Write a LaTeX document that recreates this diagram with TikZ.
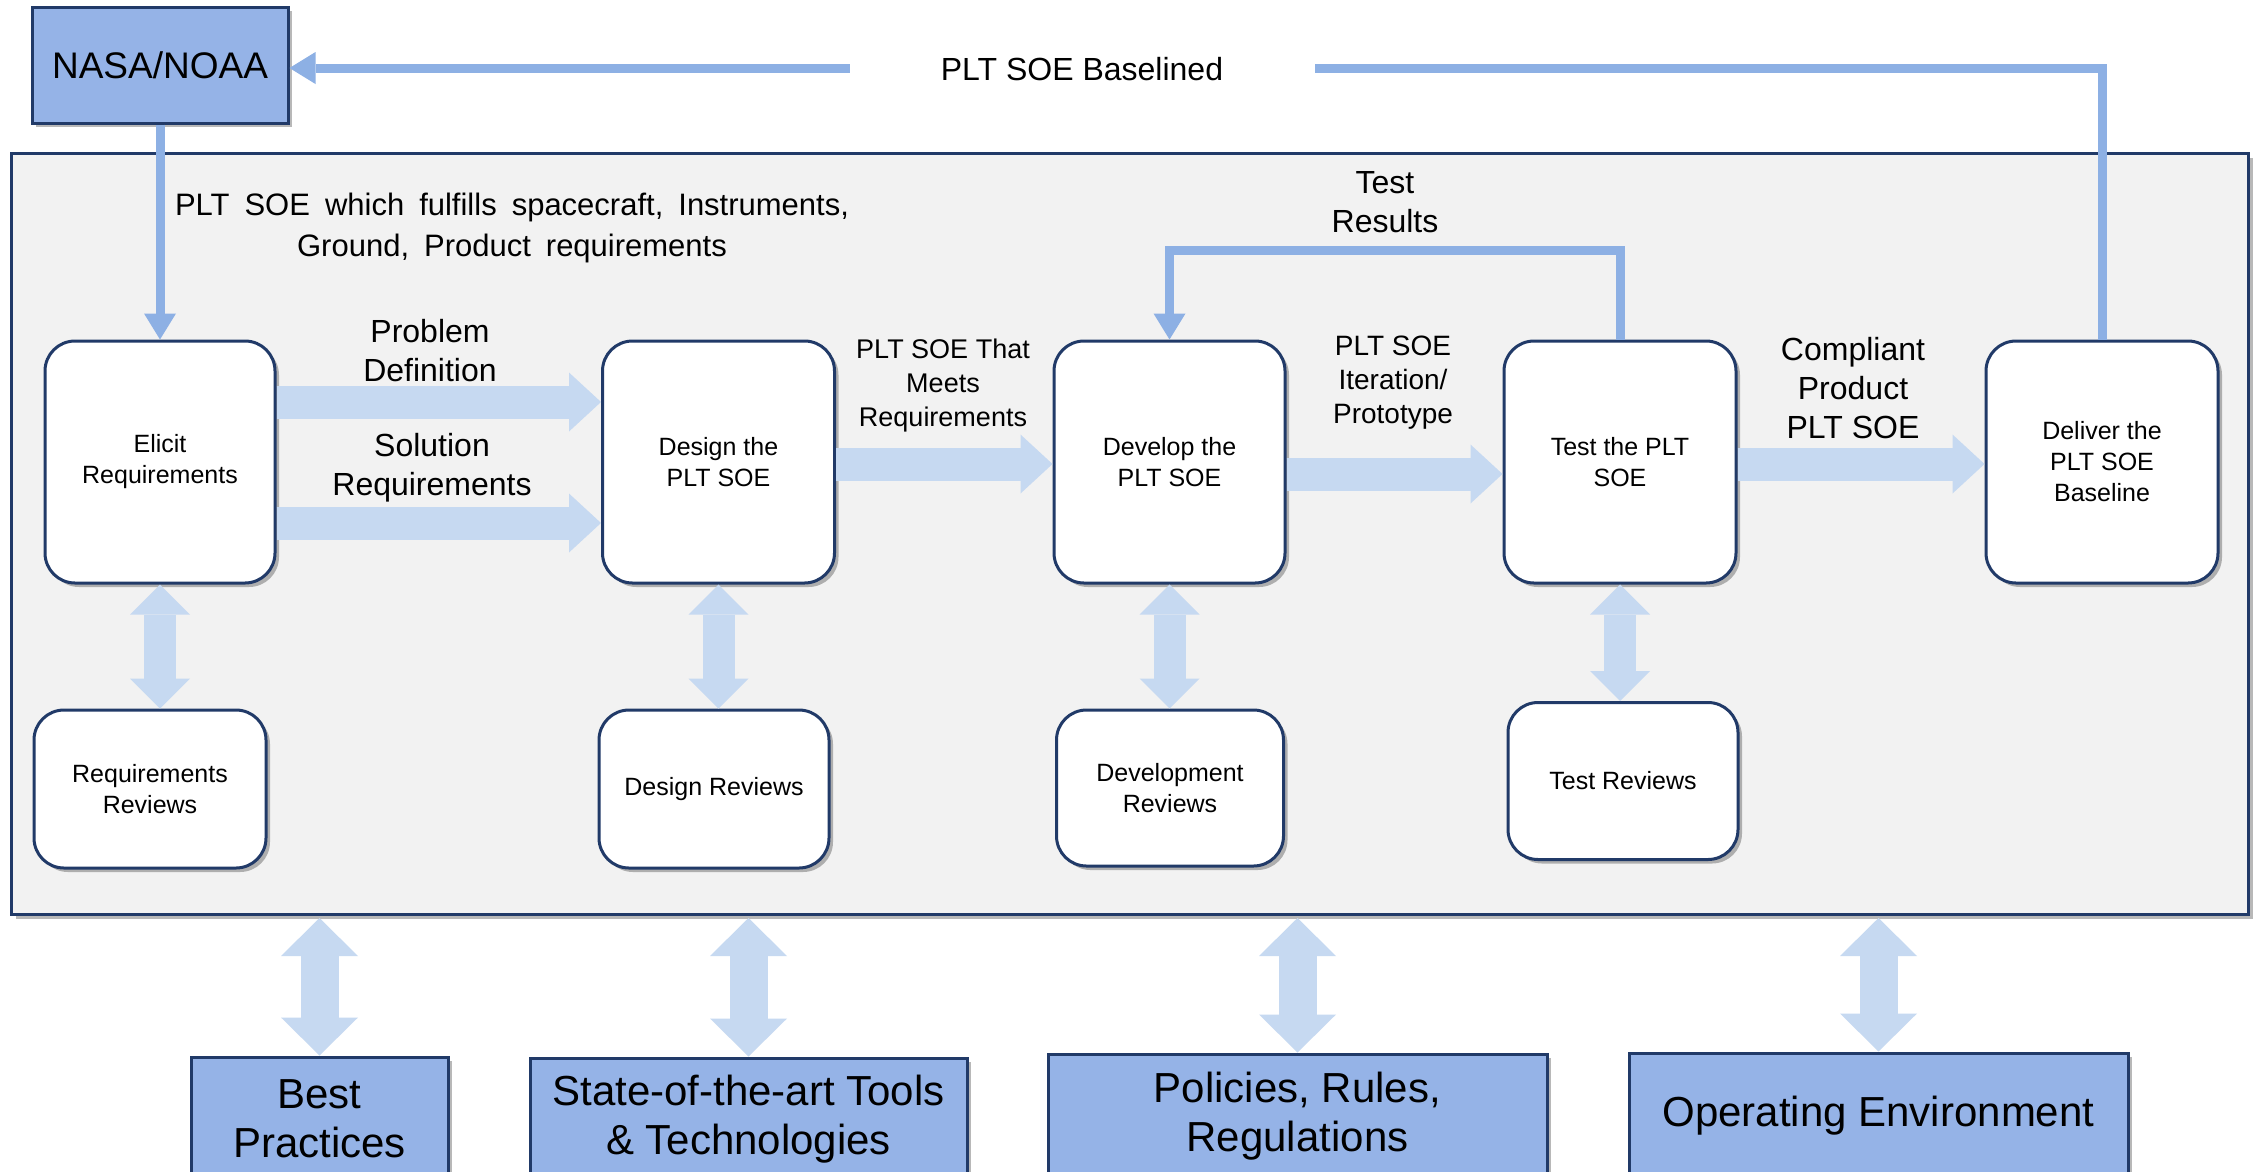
\documentclass[tikz,border=0pt]{standalone}
\usepackage{fontspec}
\setmainfont{Liberation Sans}
\usetikzlibrary{arrows.meta,shadows}

\definecolor{navy}{RGB}{33,58,104}
\definecolor{boxblue}{RGB}{149,179,231}
\definecolor{linkblue}{RGB}{141,176,228}
\definecolor{flowblue}{RGB}{198,217,241}
\definecolor{panelgrey}{RGB}{242,242,242}

\newcommand\fsz[2]{\fontsize{#1}{#2}\selectfont}

\begin{document}
\begin{tikzpicture}[x=1pt,y=-1pt,
  boxshadow/.style={drop shadow={shadow xshift=4pt,shadow yshift=-4pt,opacity=0.28,fill=black}},
  card/.style={draw=navy,line width=3pt,fill=white,rounded corners=30pt,align=center,
               inner sep=0pt,font=\fsz{25}{31},boxshadow},
  bluebox/.style={draw=navy,line width=3pt,fill=boxblue,align=center,inner sep=0pt,boxshadow},
  lbl/.style={align=center,inner sep=0pt},
  flow/.style={draw=flowblue,line width=33pt,
               -{Triangle[width=59pt,length=32pt,line width=0pt]}},
  review/.style={draw=flowblue,line width=32pt,
               {Triangle[width=60pt,length=30pt,line width=0pt]}-{Triangle[width=60pt,length=30pt,line width=0pt]}},
  source/.style={draw=flowblue,line width=38pt,
               {Triangle[width=77pt,length=38pt,line width=0pt]}-{Triangle[width=77pt,length=38pt,line width=0pt]}},
  link/.style={draw=linkblue,line width=9pt,
               -{Triangle[width=32pt,length=26pt,line width=0pt]}}
]
\useasboundingbox (0,0) rectangle (2257,1171);
\clip (0,0) rectangle (2257,1171);
\fill[white] (0,0) rectangle (2257,1171);

% process panel
\node[draw=navy,line width=3pt,fill=panelgrey,inner sep=0pt,anchor=north west,
      minimum width=2237pt,minimum height=761pt,boxshadow] (panel) at (10,152) {};

% agency
\node[bluebox,minimum width=256pt,minimum height=116pt,font=\fsz{37}{44}] (nasa) at (160,65) {NASA/NOAA};

% main process steps
\node[card,minimum width=230pt,minimum height=242pt] (elicit)  at (160,462)  {Elicit\\Requirements};
\node[card,minimum width=232pt,minimum height=242pt] (design)  at (718.5,462) {Design the\\PLT SOE};
\node[card,minimum width=231pt,minimum height=242pt] (develop) at (1169.5,462) {Develop the\\PLT SOE};
\node[card,minimum width=232pt,minimum height=242pt] (test)    at (1620,462) {Test the PLT\\SOE};
\node[card,minimum width=232pt,minimum height=242pt] (deliver) at (2102,462) {Deliver the\\PLT SOE\\Baseline};

% reviews
\node[card,minimum width=232pt,minimum height=158pt] (reqrev)  at (150,789)  {Requirements\\Reviews};
\node[card,minimum width=230pt,minimum height=158pt] (desrev)  at (714,789)  {Design Reviews};
\node[card,minimum width=227pt,minimum height=156pt] (devrev)  at (1170,788) {Development\\Reviews};
\node[card,minimum width=230pt,minimum height=157pt] (testrev) at (1623,781) {Test Reviews};

% external sources
\node[bluebox,minimum width=257pt,minimum height=123pt,font=\fsz{42}{49}] (best)   at (319.5,1118.5) {Best\\Practices};
\node[bluebox,minimum width=437pt,minimum height=123pt,font=\fsz{42}{49}] (tools)  at (748.5,1119.5) {State-of-the-art Tools\\\& Technologies};
\node[bluebox,minimum width=499pt,minimum height=124pt,font=\fsz{42}{49}] (policy) at (1297.5,1116) {Policies, Rules,\\Regulations};
\node[bluebox,minimum width=499pt,minimum height=125pt,font=\fsz{42}{49}] (openv)  at (1878.5,1115.5) {Operating Environment};

% agency links
\draw[link] (nasa.south) -- (elicit.north);
\draw[link] (deliver.north) |- ([yshift=-3pt]nasa.east);
\node[lbl,fill=white,minimum width=465pt,minimum height=40pt,font=\fsz{32}{38}] (baselined) at (1082,69) {PLT SOE Baselined};
\node[lbl,font=\fsz{31}{41}] (reqlbl) at (512,228)
  {\spaceskip=15pt PLT SOE which fulfills spacecraft, Instruments,\\\spaceskip=15pt Ground, Product requirements};

% test feedback loop
\draw[link] (test.north) -- ++(0,-89) -| (develop.north);
\node[lbl,font=\fsz{32}{39}] (reslbl) at (1385,202) {Test\\Results};

% main flow
\draw[flow] ([yshift=60pt]elicit.east) -- ([yshift=60pt]design.west);
\draw[flow] ([yshift=-61pt]elicit.east) -- ([yshift=-61pt]design.west);
\draw[flow] ([yshift=-2pt]design.east) -- ([yshift=-2pt]develop.west);
\draw[flow] ([yshift=-12pt]develop.east) -- ([yshift=-12pt]test.west);
\draw[flow] ([yshift=-2pt]test.east) -- ([yshift=-2pt]deliver.west);

\node[lbl,font=\fsz{32}{39}] (pdlbl) at (430,351) {Problem\\Definition};
\node[lbl,font=\fsz{32}{39}] (srlbl) at (432,468) {Solution\\Requirements};
\node[lbl,font=\fsz{27}{34}] (mrlbl) at (943,386) {PLT SOE That\\Meets\\Requirements};
\node[lbl,font=\fsz{28}{34}] (itlbl) at (1393,383) {PLT SOE\\Iteration/\\Prototype};
\node[lbl,font=\fsz{32}{39}] (cplbl) at (1853,388) {Compliant\\Product\\PLT SOE};

% reviews exchange
\draw[review] (elicit.south)  -- (elicit.south |- reqrev.north);
\draw[review] (design.south)  -- (design.south |- desrev.north);
\draw[review] (develop.south) -- (develop.south |- devrev.north);
\draw[review] (test.south)    -- (test.south |- testrev.north);

% external sources exchange
\draw[source] ([yshift=-2pt]best.north |- panel.south)   -- (best.north);
\draw[source] ([yshift=-2pt]tools.north |- panel.south)  -- (tools.north);
\draw[source] ([yshift=-2pt]policy.north |- panel.south) -- (policy.north);
\draw[source] ([yshift=-2pt]openv.north |- panel.south)  -- (openv.north);
\end{tikzpicture}
\end{document}
